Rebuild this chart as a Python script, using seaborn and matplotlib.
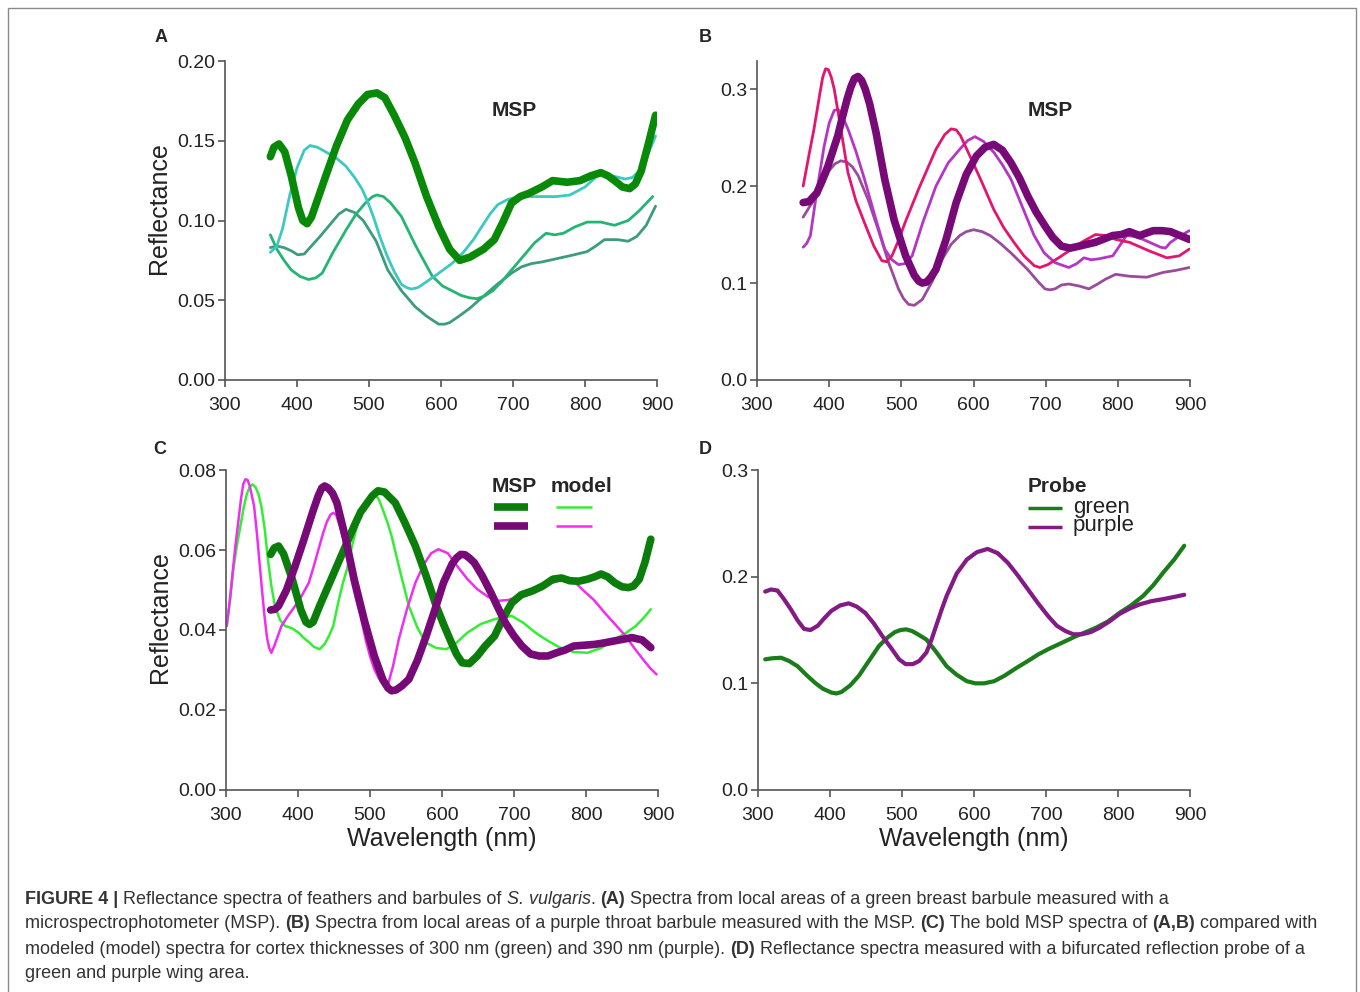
import matplotlib
matplotlib.use('Agg')
import matplotlib.pyplot as plt
import seaborn as sns
import numpy as np
from matplotlib.patches import Rectangle
from matplotlib.lines import Line2D

# ---- panel A: green breast barbule, MSP ----
a_thick_x = [363, 368, 375, 383, 392, 402, 408, 414, 420, 430, 440, 455, 470, 485, 498, 511, 522, 535, 550, 564, 580, 597, 612, 626, 640, 659, 674, 686, 698, 710, 722, 740, 755, 775, 793, 808, 822, 832, 841, 852, 862, 870, 878, 888, 898]
a_thick_y = [0.140, 0.146, 0.148, 0.143, 0.128, 0.108, 0.100, 0.098, 0.102, 0.115, 0.128, 0.147, 0.163, 0.173, 0.179, 0.180, 0.177, 0.166, 0.152, 0.136, 0.115, 0.096, 0.082, 0.075, 0.077, 0.082, 0.088, 0.099, 0.111, 0.115, 0.117, 0.121, 0.125, 0.124, 0.125, 0.128, 0.130, 0.128, 0.125, 0.121, 0.120, 0.123, 0.131, 0.148, 0.166]
a_cyan_x = [363, 372, 380, 390, 400, 410, 418, 428, 440, 455, 468, 480, 490, 498, 506, 515, 525, 535, 545, 552, 559, 568, 578, 597, 615, 631, 645, 655, 668, 679, 692, 707, 725, 741, 760, 779, 800, 822, 838, 856, 866, 875, 886, 898]
a_cyan_y = [0.080, 0.084, 0.095, 0.116, 0.133, 0.144, 0.147, 0.146, 0.143, 0.139, 0.134, 0.127, 0.120, 0.112, 0.1025, 0.090, 0.078, 0.068, 0.060, 0.058, 0.057, 0.058, 0.061, 0.067, 0.073, 0.080, 0.088, 0.095, 0.104, 0.110, 0.113, 0.115, 0.115, 0.115, 0.115, 0.116, 0.121, 0.130, 0.128, 0.126, 0.127, 0.131, 0.140, 0.153]
a_mid_x = [363, 372, 382, 392, 404, 416, 426, 435, 450, 468, 482, 495, 505, 511, 520, 530, 545, 565, 588, 602, 615, 628, 640, 650, 660, 672, 685, 698, 715, 730, 746, 758, 770, 786, 803, 822, 841, 860, 875, 894]
a_mid_y = [0.091, 0.082, 0.075, 0.069, 0.065, 0.063, 0.064, 0.067, 0.080, 0.094, 0.104, 0.111, 0.115, 0.116, 0.115, 0.111, 0.1025, 0.084, 0.065, 0.059, 0.056, 0.053, 0.0515, 0.051, 0.0525, 0.056, 0.062, 0.069, 0.078, 0.086, 0.092, 0.091, 0.092, 0.096, 0.099, 0.099, 0.097, 0.100, 0.106, 0.115]
a_teal_x = [363, 372, 382, 392, 401, 410, 420, 432, 445, 458, 468, 480, 492, 510, 526, 545, 564, 580, 590, 597, 605, 612, 625, 640, 659, 678, 698, 712, 726, 740, 755, 780, 803, 815, 827, 845, 860, 872, 885, 898]
a_teal_y = [0.083, 0.084, 0.083, 0.081, 0.0785, 0.079, 0.084, 0.090, 0.097, 0.104, 0.107, 0.105, 0.100, 0.087, 0.069, 0.056, 0.046, 0.040, 0.037, 0.035, 0.035, 0.036, 0.040, 0.045, 0.0525, 0.060, 0.067, 0.071, 0.073, 0.074, 0.0755, 0.078, 0.0805, 0.084, 0.088, 0.088, 0.087, 0.090, 0.097, 0.109]

# ---- panel B: purple throat barbule, MSP ----
b_thick_x = [364, 372, 383, 390, 398, 405, 412, 418, 425, 430, 435, 440, 445, 450, 456, 465, 477, 490, 506, 518, 524, 529, 535, 541, 548, 562, 576, 590, 604, 616, 628, 640, 652, 664, 675, 687, 699, 710, 722, 734, 746, 769, 793, 805, 816, 830, 849, 862, 873, 886, 899]
b_thick_y = [0.183, 0.184, 0.193, 0.205, 0.220, 0.236, 0.252, 0.270, 0.290, 0.302, 0.311, 0.313, 0.309, 0.300, 0.285, 0.255, 0.207, 0.165, 0.128, 0.108, 0.102, 0.100, 0.101, 0.106, 0.114, 0.145, 0.183, 0.212, 0.231, 0.240, 0.243, 0.237, 0.224, 0.208, 0.190, 0.173, 0.159, 0.147, 0.138, 0.136, 0.138, 0.142, 0.149, 0.150, 0.153, 0.149, 0.154, 0.154, 0.153, 0.149, 0.145]
b_pink_x = [364, 372, 379, 387, 391, 395, 399, 403, 407, 416, 426, 437, 449, 462, 473, 480, 487, 495, 505, 524, 548, 560, 569, 576, 582, 595, 611, 628, 642, 656, 670, 684, 692, 703, 720, 736, 752, 769, 783, 797, 816, 844, 868, 885, 899]
b_pink_y = [0.200, 0.232, 0.259, 0.295, 0.312, 0.321, 0.320, 0.312, 0.300, 0.260, 0.214, 0.185, 0.162, 0.138, 0.123, 0.122, 0.128, 0.142, 0.162, 0.197, 0.238, 0.253, 0.259, 0.258, 0.252, 0.231, 0.205, 0.176, 0.157, 0.142, 0.128, 0.118, 0.116, 0.119, 0.127, 0.135, 0.143, 0.150, 0.149, 0.145, 0.142, 0.133, 0.126, 0.128, 0.135]
b_mag_x = [364, 369, 374, 383, 393, 400, 407, 412, 416, 426, 437, 449, 463, 477, 487, 496, 505, 515, 530, 548, 565, 581, 592, 602, 614, 628, 640, 652, 668, 684, 698, 713, 732, 743, 753, 763, 774, 793, 812, 823, 835, 859, 866, 873, 885, 899]
b_mag_y = [0.137, 0.141, 0.149, 0.195, 0.241, 0.265, 0.278, 0.279, 0.276, 0.259, 0.236, 0.207, 0.170, 0.135, 0.124, 0.119, 0.120, 0.128, 0.163, 0.200, 0.224, 0.238, 0.247, 0.251, 0.246, 0.235, 0.222, 0.207, 0.178, 0.149, 0.131, 0.121, 0.116, 0.120, 0.126, 0.124, 0.125, 0.128, 0.149, 0.148, 0.145, 0.137, 0.136, 0.142, 0.148, 0.154]
b_mauve_x = [364, 373, 383, 392, 400, 408, 416, 424, 432, 440, 454, 468, 482, 496, 503, 510, 518, 529, 543, 557, 569, 581, 590, 600, 612, 623, 637, 652, 675, 690, 699, 706, 713, 722, 732, 746, 760, 772, 783, 797, 816, 840, 863, 880, 899]
b_mauve_y = [0.168, 0.179, 0.190, 0.203, 0.216, 0.223, 0.226, 0.225, 0.220, 0.211, 0.186, 0.155, 0.122, 0.094, 0.084, 0.078, 0.077, 0.083, 0.102, 0.125, 0.140, 0.149, 0.153, 0.155, 0.153, 0.149, 0.141, 0.131, 0.114, 0.101, 0.094, 0.093, 0.094, 0.098, 0.099, 0.097, 0.094, 0.099, 0.104, 0.109, 0.107, 0.106, 0.111, 0.113, 0.116]

# ---- panel C: bold MSP spectra vs model ----
c_msp_g_x = [362, 367, 373, 380, 392, 404, 411, 416, 421, 430, 442, 454, 466, 478, 487, 495, 503, 511, 520, 535, 548, 563, 578, 592, 602, 611, 620, 628, 638, 649, 660, 673, 685, 697, 710, 726, 740, 754, 766, 778, 790, 802, 812, 821, 830, 840, 850, 859, 866, 874, 882, 890]
c_msp_g_y = [0.0589, 0.0605, 0.061, 0.059, 0.0527, 0.045, 0.042, 0.0414, 0.042, 0.046, 0.051, 0.056, 0.061, 0.066, 0.0695, 0.0715, 0.0735, 0.0748, 0.0745, 0.0718, 0.067, 0.061, 0.0535, 0.046, 0.0415, 0.0377, 0.034, 0.0318, 0.0316, 0.0335, 0.036, 0.0385, 0.043, 0.0468, 0.0488, 0.0498, 0.051, 0.0527, 0.053, 0.0523, 0.0522, 0.0527, 0.0533, 0.054, 0.0533, 0.0518, 0.0508, 0.0506, 0.051, 0.0527, 0.057, 0.0627]
c_msp_p_x = [362, 368, 373, 384, 396, 408, 420, 428, 433, 437, 442, 448, 454, 466, 478, 492, 506, 518, 525, 530, 536, 544, 554, 566, 578, 590, 602, 614, 620, 626, 632, 638, 645, 656, 668, 678, 688, 700, 711, 723, 735, 747, 759, 771, 783, 798, 812, 826, 840, 852, 864, 878, 890]
c_msp_p_y = [0.045, 0.0452, 0.046, 0.050, 0.056, 0.0625, 0.0693, 0.0735, 0.0755, 0.076, 0.0755, 0.0742, 0.0718, 0.063, 0.0527, 0.0425, 0.0335, 0.0275, 0.0255, 0.0248, 0.025, 0.026, 0.0277, 0.0325, 0.0385, 0.045, 0.0518, 0.0565, 0.058, 0.0589, 0.0588, 0.058, 0.0568, 0.0535, 0.0493, 0.0455, 0.0418, 0.0385, 0.036, 0.034, 0.0335, 0.0335, 0.0343, 0.035, 0.036, 0.0362, 0.0364, 0.0368, 0.0373, 0.0377, 0.0381, 0.0375, 0.0356]
c_mod_g_x = [301, 306, 310, 315, 320, 325, 329, 333, 337, 341, 345, 349, 354, 358, 363, 368, 375, 382, 391, 401, 408, 415, 422, 430, 437, 443, 449, 456, 462, 468, 475, 482, 487, 492, 499, 506, 512, 518, 524, 530, 542, 554, 566, 578, 592, 606, 620, 635, 654, 673, 685, 697, 713, 730, 747, 764, 783, 802, 821, 840, 855, 869, 880, 890]
c_mod_g_y = [0.041, 0.048, 0.055, 0.061, 0.066, 0.071, 0.074, 0.0758, 0.0764, 0.0757, 0.074, 0.071, 0.065, 0.058, 0.051, 0.046, 0.0425, 0.041, 0.0405, 0.0393, 0.038, 0.037, 0.0358, 0.0352, 0.0365, 0.0385, 0.041, 0.047, 0.0515, 0.0552, 0.061, 0.066, 0.069, 0.0712, 0.0732, 0.0739, 0.0728, 0.070, 0.067, 0.0635, 0.0545, 0.046, 0.0405, 0.0368, 0.0355, 0.0352, 0.0368, 0.0393, 0.0415, 0.0427, 0.0432, 0.0435, 0.0418, 0.0393, 0.0373, 0.0356, 0.0345, 0.0343, 0.0355, 0.0377, 0.0392, 0.041, 0.043, 0.0452]
c_mod_m_x = [301, 305, 309, 313, 317, 321, 324, 327, 330, 333, 336, 339, 343, 346, 350, 353, 357, 360, 363, 367, 372, 377, 386, 396, 405, 415, 422, 429, 435, 440, 445, 449, 453, 458, 463, 469, 475, 481, 487, 494, 500, 506, 512, 517, 521, 526, 532, 540, 551, 563, 575, 585, 595, 608, 621, 635, 649, 664, 678, 692, 707, 726, 745, 757, 769, 783, 797, 811, 826, 840, 855, 867, 879, 889, 898]
c_mod_m_y = [0.041, 0.047, 0.054, 0.061, 0.067, 0.073, 0.0765, 0.0777, 0.0775, 0.076, 0.0735, 0.071, 0.064, 0.058, 0.050, 0.0443, 0.038, 0.0355, 0.0343, 0.036, 0.0385, 0.041, 0.0435, 0.046, 0.0485, 0.0518, 0.056, 0.0605, 0.0643, 0.067, 0.0688, 0.0693, 0.0688, 0.066, 0.0627, 0.057, 0.052, 0.0475, 0.0435, 0.0375, 0.0335, 0.0302, 0.028, 0.0268, 0.0264, 0.027, 0.031, 0.0377, 0.045, 0.0518, 0.0565, 0.0592, 0.0602, 0.0592, 0.056, 0.0528, 0.0502, 0.0483, 0.0473, 0.0475, 0.0485, 0.050, 0.0514, 0.052, 0.0527, 0.0522, 0.0498, 0.0475, 0.0443, 0.0415, 0.0385, 0.0355, 0.0327, 0.0305, 0.0289]

# ---- panel D: reflection probe ----
d_green_x = [310, 320, 332, 343, 355, 367, 379, 390, 402, 409, 416, 428, 440, 454, 468, 480, 490, 498, 506, 514, 522, 534, 548, 562, 576, 590, 602, 614, 628, 642, 658, 675, 689, 703, 722, 741, 755, 769, 786, 802, 818, 835, 849, 863, 878, 892]
d_green_y = [0.1225, 0.1235, 0.124, 0.121, 0.116, 0.108, 0.1006, 0.095, 0.0913, 0.0905, 0.0919, 0.098, 0.107, 0.121, 0.135, 0.143, 0.148, 0.150, 0.1506, 0.149, 0.146, 0.141, 0.129, 0.116, 0.108, 0.102, 0.100, 0.100, 0.102, 0.107, 0.114, 0.121, 0.127, 0.132, 0.138, 0.144, 0.148, 0.152, 0.158, 0.166, 0.173, 0.182, 0.192, 0.204, 0.216, 0.229]
d_purple_x = [310, 318, 327, 336, 346, 355, 364, 373, 383, 392, 402, 414, 426, 437, 449, 461, 473, 485, 496, 505, 515, 524, 534, 541, 548, 555, 562, 576, 590, 604, 619, 633, 647, 661, 675, 689, 703, 715, 727, 738, 750, 762, 774, 788, 802, 816, 830, 846, 863, 878, 892]
d_purple_y = [0.186, 0.188, 0.187, 0.179, 0.169, 0.159, 0.151, 0.150, 0.154, 0.161, 0.168, 0.173, 0.175, 0.172, 0.166, 0.156, 0.144, 0.133, 0.1225, 0.118, 0.118, 0.121, 0.129, 0.141, 0.155, 0.169, 0.182, 0.203, 0.216, 0.223, 0.226, 0.222, 0.213, 0.201, 0.188, 0.175, 0.163, 0.154, 0.149, 0.146, 0.146, 0.148, 0.152, 0.158, 0.165, 0.170, 0.174, 0.177, 0.179, 0.181, 0.183]

W, H = 1360, 992
FONT = ['Liberation Sans', 'DejaVu Sans']

sns.set_theme(style='ticks')
plt.rcParams['font.family'] = FONT
plt.rcParams['lines.solid_joinstyle'] = 'round'
plt.rcParams['lines.solid_capstyle'] = 'round'


def fx(px):
    return px / W


def fy(py):
    return 1 - py / H


fig = plt.figure(figsize=(13.6, 9.92), dpi=100)

# figure frame
fig.patches.append(Rectangle((fx(8), -0.02), fx(1348), fy(8) + 0.02, transform=fig.transFigure,
                             fill=False, edgecolor='#8a8a8a', linewidth=1.0))


def make_ax(left, top, right, bottom, ylim, yticks, fmt):
    ax = fig.add_axes([fx(left), fy(bottom), fx(right - left), (bottom - top) / H])
    ax.set_xlim(300, 900)
    ax.set_ylim(*ylim)
    ax.set_xticks(range(300, 901, 100))
    ax.set_yticks(yticks)
    ax.set_yticklabels([fmt % v for v in yticks])
    sns.despine(ax=ax)
    for s in ['left', 'bottom']:
        ax.spines[s].set_color('#555555')
        ax.spines[s].set_linewidth(1.2)
    ax.tick_params(direction='out', length=5, width=1.2, color='#555555',
                   labelsize=14, labelcolor='#222222', pad=2)
    ax.tick_params(axis='x', pad=7)
    ax.set_facecolor('none')
    return ax


def curve(ax, x, y, color, lw):
    sns.lineplot(x=x, y=y, ax=ax, color=color, linewidth=lw, estimator=None, sort=False)


axA = make_ax(225, 61, 657, 380, (0, 0.2), [0, 0.05, 0.10, 0.15, 0.20], '%.2f')
axB = make_ax(757, 61, 1190, 380, (0, 0.329), [0, 0.1, 0.2, 0.3], '%.1f')
axC = make_ax(226, 470, 658, 790, (0, 0.08), [0, 0.02, 0.04, 0.06, 0.08], '%.2f')
axD = make_ax(758, 470, 1190, 790, (0, 0.3), [0, 0.1, 0.2, 0.3], '%.1f')

# A
curve(axA, a_teal_x, a_teal_y, '#3c9c7c', 2.0)
curve(axA, a_mid_x, a_mid_y, '#22b574', 2.0)
curve(axA, a_cyan_x, a_cyan_y, '#3cc9c0', 2.0)
curve(axA, a_thick_x, a_thick_y, '#088a08', 5.5)
# B
curve(axB, b_mauve_x, b_mauve_y, '#9b4b9b', 2.0)
curve(axB, b_mag_x, b_mag_y, '#b436c6', 2.0)
curve(axB, b_pink_x, b_pink_y, '#e3156e', 2.0)
curve(axB, b_thick_x, b_thick_y, '#780a78', 5.5)
# C
curve(axC, c_mod_g_x, c_mod_g_y, '#33ee33', 1.8)
curve(axC, c_mod_m_x, c_mod_m_y, '#f02ef0', 1.8)
curve(axC, c_msp_g_x, c_msp_g_y, '#0a7d0a', 5.5)
curve(axC, c_msp_p_x, c_msp_p_y, '#780a78', 5.5)
# D
curve(axD, d_green_x, d_green_y, '#1a7d1a', 3.0)
curve(axD, d_purple_x, d_purple_y, '#841a84', 3.0)

for ax in (axA, axB, axC, axD):
    ax.set_xlabel('')
    ax.set_ylabel('')

axA.set_ylabel('Reflectance', fontsize=18, color='#222222')
axA.yaxis.set_label_coords(-0.125, 0.54)
axC.set_ylabel('Reflectance', fontsize=18, color='#222222')
axC.yaxis.set_label_coords(-0.125, 0.54)
axC.set_xlabel('Wavelength (nm)', fontsize=18, color='#222222')
axC.xaxis.set_label_coords(0.5, -0.115)
axD.set_xlabel('Wavelength (nm)', fontsize=18, color='#222222')
axD.xaxis.set_label_coords(0.5, -0.115)

# panel letters
for lab, px, py in [('A', 161, 38), ('B', 705, 38), ('C', 160, 449), ('D', 705, 449)]:
    fig.text(fx(px), fy(py), lab, fontsize=13, fontweight='bold', ha='center', va='center')

fig.text(fx(514), fy(111), 'MSP', fontsize=15, fontweight='bold', ha='center', va='center')
fig.text(fx(1050), fy(111), 'MSP', fontsize=15, fontweight='bold', ha='center', va='center')

# panel C key
fig.text(fx(514), fy(486), 'MSP', fontsize=15, fontweight='bold', ha='center', va='center')
fig.text(fx(581), fy(486), 'model', fontsize=15, fontweight='bold', ha='center', va='center')
for (x0, x1, yy, c, lw) in [(494, 528, 507, '#0a7d0a', 5.5), (494, 528, 526, '#780a78', 5.5),
                            (556, 592, 507, '#33ee33', 1.8), (556, 592, 526, '#f02ef0', 1.8)]:
    fig.lines.append(Line2D([fx(x0), fx(x1)], [fy(yy), fy(yy)], transform=fig.transFigure,
                            color=c, linewidth=lw, solid_capstyle='butt'))

# panel D key
fig.text(fx(1028), fy(486), 'Probe', fontsize=15, fontweight='bold', ha='left', va='center')
for (yy, c, lab) in [(508, '#1a7d1a', 'green'), (527, '#841a84', 'purple')]:
    fig.lines.append(Line2D([fx(1028), fx(1062)], [fy(yy), fy(yy)], transform=fig.transFigure,
                            color=c, linewidth=2.5, solid_capstyle='butt'))
    fig.text(fx(1073), fy(yy - 1), lab, fontsize=16, ha='left', va='center', color='#222222')

# caption
cap_lines = [
    [('FIGURE 4 | ', 'bold', 'normal'), ('Reflectance spectra of feathers and barbules of ', 'normal', 'normal'),
     ('S. vulgaris', 'normal', 'italic'), ('. ', 'normal', 'normal'), ('(A)', 'bold', 'normal'),
     (' Spectra from local areas of a green breast barbule measured with a', 'normal', 'normal')],
    [('microspectrophotometer (MSP). ', 'normal', 'normal'), ('(B)', 'bold', 'normal'),
     (' Spectra from local areas of a purple throat barbule measured with the MSP. ', 'normal', 'normal'),
     ('(C)', 'bold', 'normal'), (' The bold MSP spectra of ', 'normal', 'normal'), ('(A,B)', 'bold', 'normal'),
     (' compared with', 'normal', 'normal')],
    [('modeled (model) spectra for cortex thicknesses of 300 nm (green) and 390 nm (purple). ', 'normal', 'normal'),
     ('(D)', 'bold', 'normal'),
     (' Reflectance spectra measured with a bifurcated reflection probe of a', 'normal', 'normal')],
    [('green and purple wing area.', 'normal', 'normal')],
]
cap_y = [899, 924, 949, 974]

fig.canvas.draw()
renderer = fig.canvas.get_renderer()
for parts, py in zip(cap_lines, cap_y):
    x = 25
    for txt, weight, style in parts:
        t = fig.text(fx(x), fy(py), txt, fontsize=13.0, fontweight=weight, fontstyle=style,
                     ha='left', va='center', color='#333333')
        bb = t.get_window_extent(renderer=renderer)
        x += bb.width

fig.savefig('out.png', dpi=100)
